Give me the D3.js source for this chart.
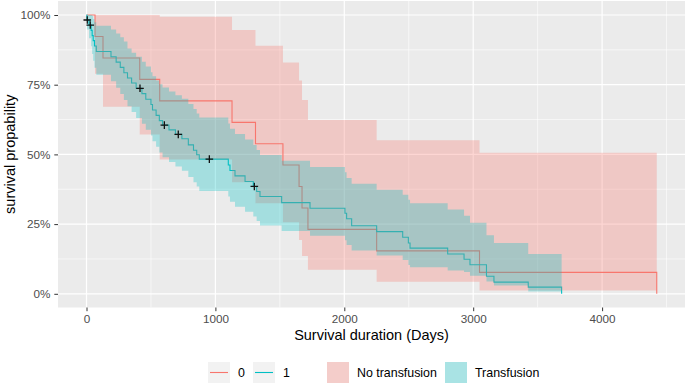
<!DOCTYPE html>
<html>
<head>
<meta charset="utf-8">
<script src="https://cdn.jsdelivr.net/npm/d3@7"></script>
<style>
  body { margin: 0; background: #fff; }
  svg { display: block; font-family: "Liberation Sans", Arial, sans-serif; }
</style>
</head>
<body>
<svg id="chart" width="685" height="385"></svg>
<script>
// ---- data ----
// group 0 : no transfusion
var noTxTime  = [0, 66, 128, 413, 568, 1129, 1311, 1524, 1649, 1672, 1718, 2251, 3049, 4424];
var noTxSurv  = [1, 0.923, 0.846, 0.769, 0.692, 0.615, 0.538, 0.462, 0.385, 0.308, 0.231, 0.154, 0.077, 0];
var noTxLower = [1, 0.789, 0.671, 0.571, 0.482, 0.400, 0.325, 0.257, 0.193, 0.136, 0.086, 0.043, 0.012, 0];
var noTxUpper = [1, 1, 1, 1, 0.994, 0.946, 0.890, 0.830, 0.765, 0.695, 0.623, 0.551, 0.506, 0];

// group 1 : transfusion
var txTime  = [0, 3, 20, 36, 44, 52, 62, 76, 190, 230, 262, 290, 318, 350, 385, 430, 460, 500, 512, 540, 565, 590,
               640, 690, 740, 790, 830, 855, 875, 1100, 1113, 1152, 1230, 1294, 1320, 1346, 1514, 1734, 2005, 2018,
               2057, 2251, 2453, 2497, 2510, 2802, 2929, 2975, 3103, 3161, 3427, 3686];
var txSurv  = [1, 0.982, 0.964, 0.945, 0.926, 0.908, 0.889, 0.869, 0.850, 0.831, 0.812, 0.793, 0.774, 0.756, 0.737,
               0.718, 0.698, 0.679, 0.659, 0.640, 0.621, 0.605, 0.588, 0.572, 0.556, 0.534, 0.515, 0.499, 0.483,
               0.462, 0.442, 0.423, 0.403, 0.385, 0.367, 0.349, 0.327, 0.307, 0.289, 0.269, 0.244, 0.223, 0.203,
               0.182, 0.164, 0.143, 0.124, 0.104, 0.063, 0.042, 0.024, 0];
var txLower = [1, 0.948, 0.917, 0.888, 0.860, 0.836, 0.811, 0.786, 0.762, 0.739, 0.717, 0.695, 0.673, 0.652, 0.631,
               0.610, 0.588, 0.568, 0.547, 0.527, 0.507, 0.490, 0.473, 0.457, 0.441, 0.419, 0.400, 0.385, 0.369,
               0.349, 0.330, 0.312, 0.294, 0.277, 0.261, 0.245, 0.225, 0.208, 0.192, 0.175, 0.155, 0.137, 0.121,
               0.103, 0.095, 0.084, 0.078, 0.065, 0.044, 0.030, 0.008, 0];
var txUpper = [1, 1, 1, 1, 0.997, 0.986, 0.974, 0.961, 0.948, 0.934, 0.920, 0.905, 0.880, 0.865, 0.850,
               0.832, 0.815, 0.795, 0.780, 0.765, 0.752, 0.740, 0.726, 0.712, 0.700, 0.681, 0.663, 0.647, 0.632,
               0.611, 0.592, 0.573, 0.553, 0.534, 0.516, 0.498, 0.477, 0.455, 0.436, 0.415, 0.395, 0.373, 0.355,
               0.337, 0.325, 0.302, 0.280, 0.255, 0.210, 0.182, 0.143, 0];

// censored observations (transfusion group only)
var censorTime = [6, 29, 415, 604, 712, 953, 1302];
var censorSurv = [0.982, 0.964, 0.737, 0.605, 0.572, 0.483, 0.385];

var xTicks = [0, 1000, 2000, 3000, 4000];
var xMinor = [500, 1500, 2500, 3500, 4500];
var yTicks = [0, 0.25, 0.5, 0.75, 1];
var yMinor = [0.125, 0.375, 0.625, 0.875];

var lineLabels = ['0', '1'];
var fillLabels = ['No transfusion', 'Transfusion'];

var red = '#F8766D', teal = '#00BFC4';

// ---- layout ----
var svg = d3.select('#chart');
var panel = {left: 58, right: 685, top: 1, bottom: 307.5};

var x = d3.scaleLinear().domain([0, 4000]).range([86.5, 602.1]);
var y = d3.scaleLinear().domain([0, 1]).range([293.8, 15]);

svg.append('rect')
    .attr('x', panel.left).attr('y', panel.top)
    .attr('width', panel.right - panel.left).attr('height', panel.bottom - panel.top)
    .attr('fill', '#EBEBEB');

// grid
var grid = svg.append('g').attr('stroke', '#fff');
grid.selectAll('.xm').data(xMinor).enter().append('line')
    .attr('x1', x).attr('x2', x).attr('y1', panel.top).attr('y2', panel.bottom)
    .attr('stroke-width', 0.6);
grid.selectAll('.ym').data(yMinor).enter().append('line')
    .attr('y1', y).attr('y2', y).attr('x1', panel.left).attr('x2', panel.right)
    .attr('stroke-width', 0.6);
grid.selectAll('.xM').data(xTicks).enter().append('line')
    .attr('x1', x).attr('x2', x).attr('y1', panel.top).attr('y2', panel.bottom)
    .attr('stroke-width', 1.2);
grid.selectAll('.yM').data(yTicks).enter().append('line')
    .attr('y1', y).attr('y2', y).attr('x1', panel.left).attr('x2', panel.right)
    .attr('stroke-width', 1.2);

// build rows
function rows(time, surv, lo, hi) {
    return time.map(function(t, i) { return {t: t, s: surv[i], lo: lo[i], hi: hi[i]}; });
}
var noTx = rows(noTxTime, noTxSurv, noTxLower, noTxUpper);
var tx = rows(txTime, txSurv, txLower, txUpper);

// ribbon stops at the last event time, carrying the previous interval
function ribbonRows(r) {
    var out = r.slice(0, r.length - 1);
    var prev = r[r.length - 2];
    out.push({t: r[r.length - 1].t, lo: prev.lo, hi: prev.hi});
    return out;
}

var line = d3.line()
    .x(function(d) { return x(d.t); })
    .y(function(d) { return y(d.s); })
    .curve(d3.curveStepAfter);

var area = d3.area()
    .x(function(d) { return x(d.t); })
    .y0(function(d) { return y(d.lo); })
    .y1(function(d) { return y(d.hi); })
    .curve(d3.curveStepAfter);

// lines first, ribbons over them (as survminer does)
svg.append('path').datum(noTx).attr('d', line)
    .attr('fill', 'none').attr('stroke', red).attr('stroke-width', 1.1);
svg.append('path').datum(tx).attr('d', line)
    .attr('fill', 'none').attr('stroke', teal).attr('stroke-width', 1.1);

svg.append('path').datum(ribbonRows(noTx)).attr('d', area)
    .attr('fill', red).attr('fill-opacity', 0.3);
svg.append('path').datum(ribbonRows(tx)).attr('d', area)
    .attr('fill', teal).attr('fill-opacity', 0.3);

// censor marks
svg.selectAll('.cens').data(censorTime).enter().append('path')
    .attr('transform', function(d, i) { return 'translate(' + x(d) + ',' + y(censorSurv[i]) + ')'; })
    .attr('d', 'M-3.8,0H3.8M0,-3.8V3.8')
    .attr('stroke', '#111').attr('stroke-width', 1.3);

// axes
var xAxis = svg.append('g')
    .attr('transform', 'translate(0,' + panel.bottom + ')')
    .call(d3.axisBottom(x).tickValues(xTicks).tickSize(3.7).tickPadding(3).tickFormat(d3.format('d')));
var yAxis = svg.append('g')
    .attr('transform', 'translate(' + panel.left + ',0)')
    .call(d3.axisLeft(y).tickValues(yTicks).tickSize(3.7).tickPadding(4).tickFormat(d3.format('.0%')));

[xAxis, yAxis].forEach(function(a) {
    a.select('.domain').remove();
    a.selectAll('.tick line').attr('stroke', '#333333').attr('stroke-width', 1);
    a.selectAll('.tick text')
        .attr('fill', '#4D4D4D')
        .style('font-size', '11.7px')
        .style('font-family', '"Liberation Sans", Arial, sans-serif');
});

// titles
svg.append('text')
    .attr('x', (panel.left + panel.right) / 2).attr('y', 340)
    .attr('text-anchor', 'middle')
    .style('font-size', '14.5px').attr('fill', '#000')
    .text('Survival duration (Days)');

svg.append('text')
    .attr('transform', 'translate(15,' + ((panel.top + panel.bottom) / 2) + ') rotate(-90)')
    .attr('text-anchor', 'middle')
    .style('font-size', '14.5px').attr('fill', '#000')
    .text('survival propability');

// legend
var legend = svg.append('g').attr('transform', 'translate(0,362)');
var keyW = 22, keyH = 21;

var lineKeys = legend.selectAll('.lk').data(lineLabels).enter().append('g')
    .attr('transform', function(d, i) { return 'translate(' + (208 + i * 45) + ',0)'; });
lineKeys.append('rect').attr('width', keyW).attr('height', keyH).attr('fill', '#F2F2F2');
lineKeys.append('line')
    .attr('x1', 2).attr('x2', keyW - 2).attr('y1', keyH / 2).attr('y2', keyH / 2)
    .attr('stroke', function(d, i) { return i === 0 ? red : teal; })
    .attr('stroke-width', 1.1);
lineKeys.append('text')
    .attr('x', keyW + 8).attr('y', keyH / 2 + 4.5)
    .style('font-size', '12.4px')
    .text(function(d) { return d; });

var fillPos = [327, 445];
var fillKeys = legend.selectAll('.fk').data(fillLabels).enter().append('g')
    .attr('transform', function(d, i) { return 'translate(' + fillPos[i] + ',0)'; });
fillKeys.append('rect').attr('width', keyW).attr('height', keyH).attr('fill', '#F2F2F2');
fillKeys.append('rect').attr('width', keyW).attr('height', keyH)
    .attr('fill', function(d, i) { return i === 0 ? red : teal; })
    .attr('fill-opacity', 0.3);
fillKeys.append('text')
    .attr('x', keyW + 8).attr('y', keyH / 2 + 4.5)
    .style('font-size', '12.4px')
    .text(function(d) { return d; });
</script>
</body>
</html>
